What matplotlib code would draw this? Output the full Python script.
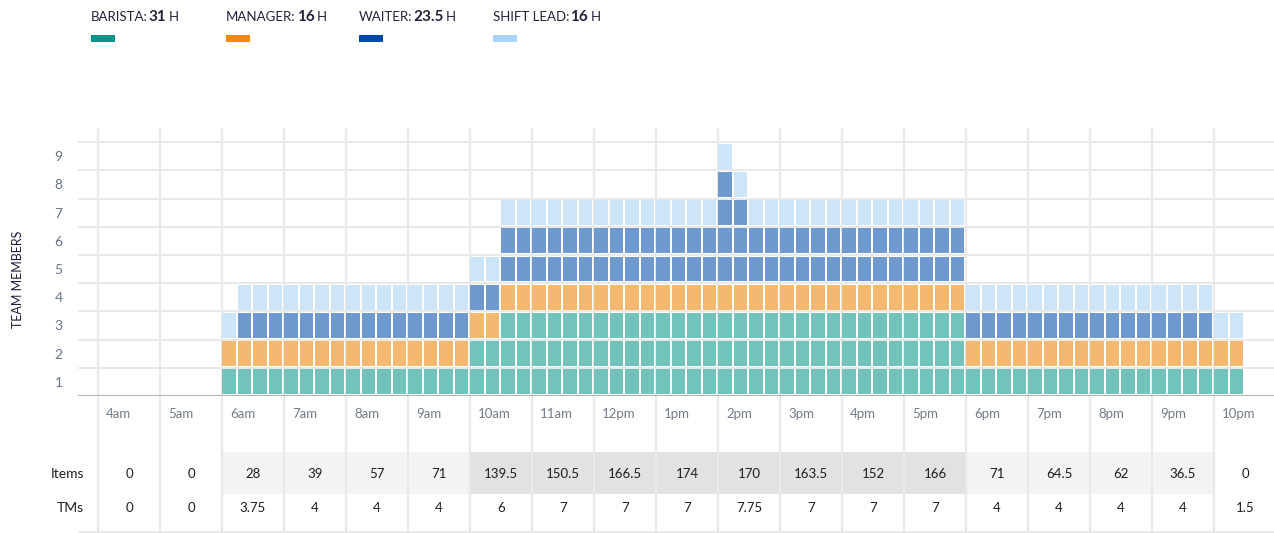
import matplotlib.pyplot as plt
from matplotlib.patches import Rectangle

# hourly columns and quarter-hour staffing (4 values per hour)
hours = ['4am', '5am', '6am', '7am', '8am', '9am', '10am', '11am', '12pm', '1pm',
         '2pm', '3pm', '4pm', '5pm', '6pm', '7pm', '8pm', '9pm', '10pm']

barista = [[0, 0, 0, 0], [0, 0, 0, 0], [1, 1, 1, 1], [1, 1, 1, 1], [1, 1, 1, 1],
           [1, 1, 1, 1], [2, 2, 3, 3], [3, 3, 3, 3], [3, 3, 3, 3], [3, 3, 3, 3],
           [3, 3, 3, 3], [3, 3, 3, 3], [3, 3, 3, 3], [3, 3, 3, 3], [1, 1, 1, 1],
           [1, 1, 1, 1], [1, 1, 1, 1], [1, 1, 1, 1], [1, 1, 0, 0]]
manager = [[0, 0, 0, 0], [0, 0, 0, 0], [1, 1, 1, 1], [1, 1, 1, 1], [1, 1, 1, 1],
           [1, 1, 1, 1], [1, 1, 1, 1], [1, 1, 1, 1], [1, 1, 1, 1], [1, 1, 1, 1],
           [1, 1, 1, 1], [1, 1, 1, 1], [1, 1, 1, 1], [1, 1, 1, 1], [1, 1, 1, 1],
           [1, 1, 1, 1], [1, 1, 1, 1], [1, 1, 1, 1], [1, 1, 0, 0]]
waiter = [[0, 0, 0, 0], [0, 0, 0, 0], [0, 1, 1, 1], [1, 1, 1, 1], [1, 1, 1, 1],
          [1, 1, 1, 1], [1, 1, 2, 2], [2, 2, 2, 2], [2, 2, 2, 2], [2, 2, 2, 2],
          [4, 3, 2, 2], [2, 2, 2, 2], [2, 2, 2, 2], [2, 2, 2, 2], [1, 1, 1, 1],
          [1, 1, 1, 1], [1, 1, 1, 1], [1, 1, 1, 1], [0, 0, 0, 0]]
shift_lead = [[0, 0, 0, 0], [0, 0, 0, 0], [1, 1, 1, 1], [1, 1, 1, 1], [1, 1, 1, 1],
              [1, 1, 1, 1], [1, 1, 1, 1], [1, 1, 1, 1], [1, 1, 1, 1], [1, 1, 1, 1],
              [1, 1, 1, 1], [1, 1, 1, 1], [1, 1, 1, 1], [1, 1, 1, 1], [1, 1, 1, 1],
              [1, 1, 1, 1], [1, 1, 1, 1], [1, 1, 1, 1], [1, 1, 0, 0]]

items = [0, 0, 28, 39, 57, 71, 139.5, 150.5, 166.5, 174, 170, 163.5, 152, 166,
         71, 64.5, 62, 36.5, 0]
tms = [0, 0, 3.75, 4, 4, 4, 6, 7, 7, 7, 7.75, 7, 7, 7, 4, 4, 4, 4, 1.5]

roles = ['BARISTA', 'MANAGER', 'WAITER', 'SHIFT LEAD']
role_hours = ['31', '16', '23.5', '16']
legend_colors = ['#00968a', '#f28a00', '#0047a6', '#aad4fa']
cell_colors = ['#72c3bc', '#f5b870', '#6f9acf', '#cde5f9']

plt.rcParams['font.family'] = ['Lato', 'DejaVu Sans']

W, H = 1274, 533
fig = plt.figure(figsize=(W / 100, H / 100), dpi=100)


def px_axes(x0, y0, x1, y1):
    return fig.add_axes([x0 / W, 1 - y1 / H, (x1 - x0) / W, (y1 - y0) / H])


col0, colw = 98, 62.0
xmin, xmax = (78 - col0) / colw, (W - col0) / colw
grid_c = '#e9e9e9'

ax = px_axes(78, 128, W, 396)
tab = px_axes(78, 396, W, H)
for a in (ax, tab):
    a.set_xlim(xmin, xmax)
    for s in a.spines.values():
        s.set_visible(False)
    a.set_xticks([])
ax.set_ylim(0, 9.5)
tab.set_ylim(137, 0)
tab.set_yticks([])

# grid
ax.vlines(range(len(hours)), 0, 9.5, color=grid_c, lw=1.6, zorder=0)
ax.hlines(range(1, 10), xmin, xmax, color=grid_c, lw=1.4, zorder=0)
ax.axhline(0, color='#b4b4b4', lw=2.2, zorder=3)

# stacked quarter-hour cells
gx, gy = 0.034, 0.12
for h in range(len(hours)):
    for q in range(4):
        level = 0
        for counts, color in zip([barista, manager, waiter, shift_lead], cell_colors):
            n = counts[h][q]
            if n:
                ax.bar([h + q * 0.25 + 0.004] * n, [1 - gy] * n, width=0.25 - gx,
                       bottom=[level + k + gy / 2 for k in range(n)],
                       align='edge', color=color, lw=0, zorder=2)
            level += n

ax.set_yticks([i + 0.5 for i in range(9)])
ax.set_yticklabels([str(i + 1) for i in range(9)])
ax.tick_params(axis='y', length=0, pad=11, labelcolor='#667487', labelsize=10)
fig.text(18 / W, 1 - 279 / H, 'TEAM MEMBERS', rotation=90, ha='center', va='center',
         color='#1f1c3d', fontsize=9)

# table under the chart
tab.vlines(range(len(hours)), 0, 137, color=grid_c, lw=1.6, zorder=1)
tab.axhline(135.5, color=grid_c, lw=1.4, zorder=1)
for h, lab in enumerate(hours):
    tab.text(h + 8 / colw, 18, lab, ha='left', va='center', color='#737c87', fontsize=9.5)
    if items[h] >= 100:
        shade = '#e2e2e2'
    elif items[h] > 0:
        shade = '#f3f3f3'
    else:
        shade = None
    if shade:
        tab.bar(h, 42, bottom=56, width=1, align='edge', color=shade, lw=0, zorder=0)
    tab.text(h + 0.5, 78, f'{items[h]:g}', ha='center', va='center', color='#1e1e1e',
             fontsize=9.5)
    tab.text(h + 0.5, 112, f'{tms[h]:g}', ha='center', va='center', color='#1e1e1e',
             fontsize=9.5)
tab.text((84 - col0) / colw, 78, 'Items', ha='right', va='center', color='#1e1e1e',
         fontsize=10)
tab.text((84 - col0) / colw, 112, 'TMs', ha='right', va='center', color='#1e1e1e',
         fontsize=10)

# legend
renderer = fig.canvas.get_renderer()
for x, role, hrs, lc in zip([91, 226, 359, 493], roles, role_hours, legend_colors):
    y = 1 - 17 / H
    t1 = fig.text(x / W, y, role + ':', ha='left', va='center', color='#23223a',
                  fontsize=9.5)
    x2 = t1.get_window_extent(renderer).x1 + 1
    t2 = fig.text(x2 / W, y, hrs, ha='left', va='center', color='#23223a',
                  fontsize=11, weight='bold')
    x3 = t2.get_window_extent(renderer).x1 + 2
    fig.text(x3 / W, y, 'H', ha='left', va='center', color='#23223a', fontsize=9.5)
    fig.add_artist(Rectangle((x / W, 1 - 42 / H), 24 / W, 7 / H, color=lc,
                             transform=fig.transFigure, lw=0))

fig.savefig('out.png', dpi=100, facecolor='white')
